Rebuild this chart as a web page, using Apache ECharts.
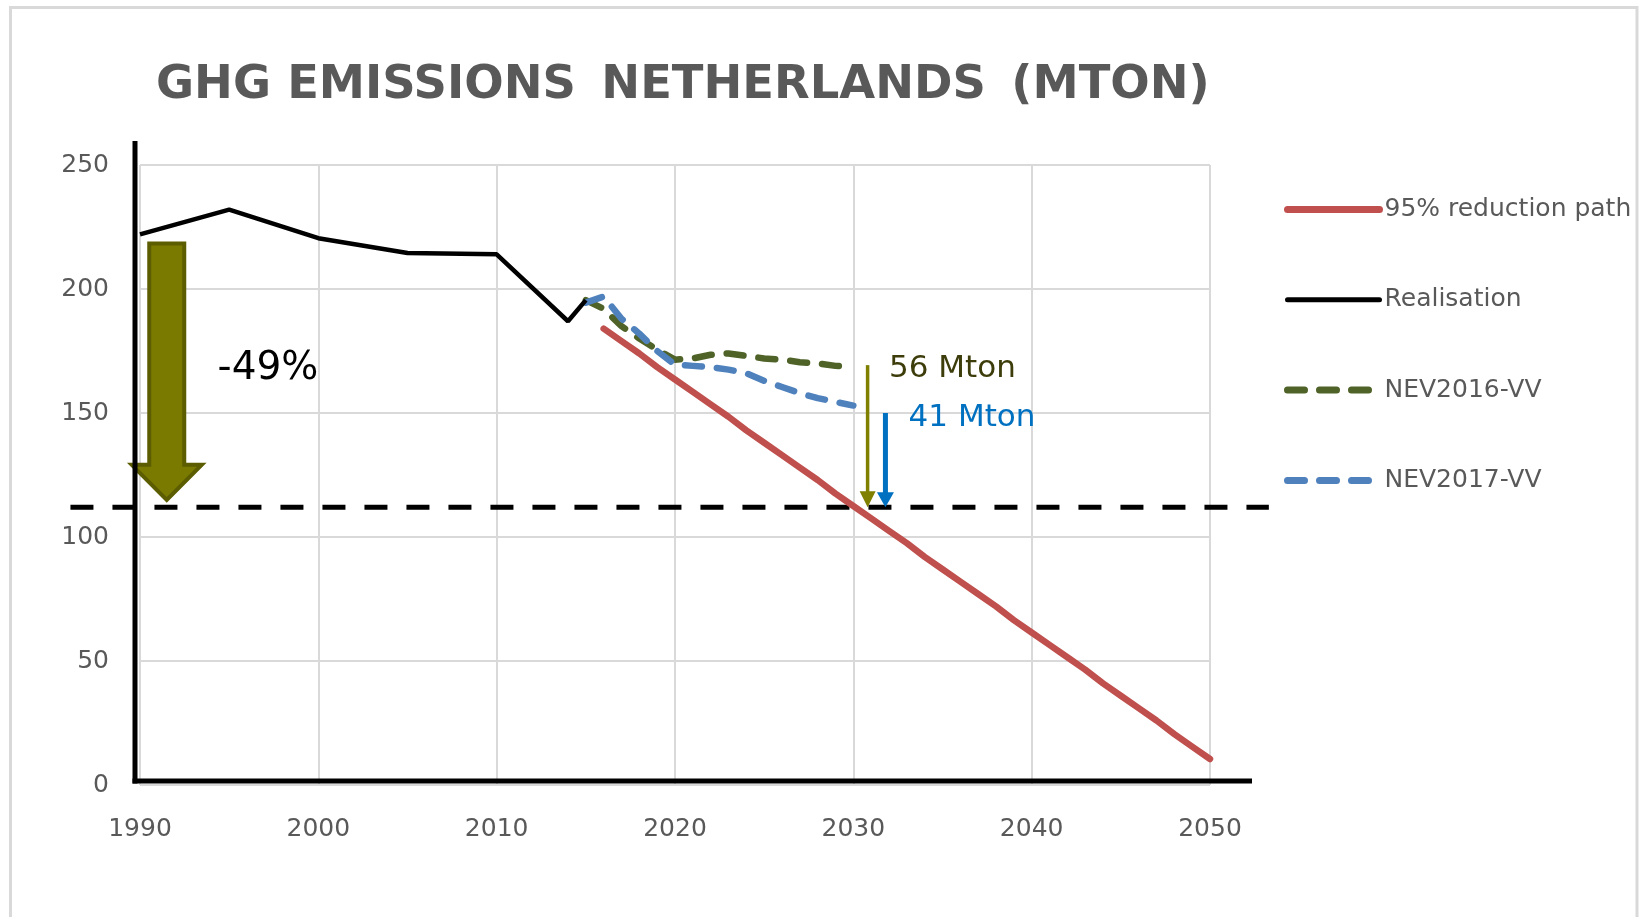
<!DOCTYPE html>
<html>
<head>
<meta charset="utf-8">
<script src="https://cdn.jsdelivr.net/npm/echarts@6/dist/echarts.min.js"></script>
<style>
html,body{margin:0;padding:0;background:#ffffff;}
#c{width:1639px;height:917px;}
</style>
</head>
<body>
<div id="c"></div>
<script>
// ---------- data ----------
const titleText = 'GHG EMISSIONS \u2009NETHERLANDS \u2009(MTON)';
const seriesNames = ['95% reduction path', 'Realisation', 'NEV2016-VV', 'NEV2017-VV'];
const xTickLabels = ['1990', '2000', '2010', '2020', '2030', '2040', '2050'];
const yTickLabels = ['0', '50', '100', '150', '200', '250'];

const realisationYears = [1990, 1995, 2000, 2005, 2010, 2014, 2015];
const realisationValues = [222, 232, 220.5, 214.5, 214, 187, 195.5];

const nev2016Years = [2015, 2016, 2017, 2018, 2019, 2020, 2021, 2022, 2023, 2024, 2025, 2026, 2027, 2028, 2029, 2030];
const nev2016Values = [195.5, 192, 185, 180, 175.5, 171.5, 172, 173.5, 174, 173, 172, 171.5, 170.5, 170, 169, 168.5];

const nev2017Years = [2015, 2016, 2017, 2018, 2019, 2020, 2021, 2022, 2023, 2024, 2025, 2026, 2027, 2028, 2029, 2030];
const nev2017Values = [194.5, 197, 188, 182, 175, 169.5, 169, 168.5, 167.5, 166, 163, 160.5, 158, 156, 154.5, 153];

const reductionYears = [2016, 2017, 2018, 2019, 2020, 2021, 2022, 2023, 2024, 2025, 2026, 2027, 2028, 2029, 2030,
  2031, 2032, 2033, 2034, 2035, 2036, 2037, 2038, 2039, 2040, 2041, 2042, 2043, 2044, 2045, 2046, 2047, 2048, 2049, 2050];
const reductionValues = [184, 179, 174, 168.5, 163.5, 158.5, 153.5, 148.5, 143, 138, 133, 128, 123, 117.5, 112.5,
  107.5, 102.5, 97.5, 92, 87, 82, 77, 72, 66.5, 61.5, 56.5, 51.5, 46.5, 41, 36, 31, 26, 20.5, 15.5, 10.5];

// annotation values (data coordinates)
const targetLevel = 112;
const bigArrow = { year: 1991.5, from: 218.3, to: 115 };
const gap2016 = { year: 2030.8, from: 169.3, to: targetLevel, label: '56 Mton', labelYear: 2032, labelValue: 167.8 };
const gap2017 = { year: 2031.8, from: 150, to: targetLevel, label: '41 Mton', labelYear: 2033.1, labelValue: 148.2 };
const reductionLabel = { text: '-49%', year: 1994.35, value: 167.6 };

// ---------- chart ----------
const FONT = 'DejaVu Sans';
const pairs = (xs, ys) => xs.map((x, i) => [x, ys[i]]);
const colors = { red: '#c0504d', black: '#000000', green: '#4f6228', blue: '#4f81bd' };

const chart = echarts.init(document.getElementById('c'));

const hiddenSymbol = { color: 'rgba(0,0,0,0)', borderWidth: 0, opacity: 0 };

const option = {
  animation: false,
  backgroundColor: '#ffffff',
  title: {
    text: titleText,
    left: 156,
    top: 61,
    padding: 0,
    textStyle: { fontFamily: FONT, fontWeight: 'bold', fontSize: 46.4, lineHeight: 50, color: '#595959' }
  },
  grid: { left: 140, right: 429, top: 165, bottom: 132, containLabel: false },
  xAxis: {
    type: 'value', min: 1990, max: 2050, interval: 10,
    axisLine: { show: false }, axisTick: { show: false },
    axisLabel: {
      margin: 32, fontFamily: FONT, fontSize: 25, color: '#595959',
      formatter: v => xTickLabels[Math.round((v - 1990) / 10)] || ''
    },
    splitLine: { show: true, lineStyle: { color: '#d9d9d9', width: 2 } }
  },
  yAxis: {
    type: 'value', min: 0, max: 250, interval: 50,
    axisLine: { show: false }, axisTick: { show: false },
    axisLabel: {
      margin: 31, fontFamily: FONT, fontSize: 25, color: '#595959',
      formatter: v => yTickLabels[Math.round(v / 50)] || ''
    },
    splitLine: { show: true, lineStyle: { color: '#d9d9d9', width: 2 } }
  },
  legend: {
    orient: 'vertical',
    left: 1284, top: 197,
    padding: 0,
    itemWidth: 92, itemHeight: 30, itemGap: 65.3,
    textStyle: { fontFamily: FONT, fontSize: 25, color: '#595959' },
    selectedMode: false,
    data: [
      { name: seriesNames[0], lineStyle: { width: 7, cap: 'round' }, itemStyle: hiddenSymbol },
      { name: seriesNames[1], lineStyle: { width: 5, cap: 'round' }, itemStyle: hiddenSymbol },
      { name: seriesNames[2], lineStyle: { width: 7, cap: 'round' }, itemStyle: hiddenSymbol },
      { name: seriesNames[3], lineStyle: { width: 7, cap: 'round' }, itemStyle: hiddenSymbol }
    ]
  },
  series: [
    {
      name: seriesNames[2], type: 'line', data: pairs(nev2016Years, nev2016Values),
      symbol: 'none', z: 3,
      lineStyle: { color: colors.green, width: 6.5, type: [17, 15], cap: 'round' },
      itemStyle: { color: colors.green }
    },
    {
      name: seriesNames[3], type: 'line', data: pairs(nev2017Years, nev2017Values),
      symbol: 'none', z: 4,
      lineStyle: { color: colors.blue, width: 6.5, type: [17, 15], cap: 'round' },
      itemStyle: { color: colors.blue }
    },
    {
      name: seriesNames[1], type: 'line', data: pairs(realisationYears, realisationValues),
      symbol: 'none', z: 5,
      lineStyle: { color: colors.black, width: 4.5 },
      itemStyle: { color: colors.black }
    },
    {
      name: seriesNames[0], type: 'line', data: pairs(reductionYears, reductionValues),
      symbol: 'none', z: 6,
      lineStyle: { color: colors.red, width: 6.5, cap: 'round', join: 'round' },
      itemStyle: { color: colors.red }
    }
  ]
};
chart.setOption(option);

// ---------- annotations positioned through the chart's own scales ----------
const P = (x, y) => chart.convertToPixel({ gridIndex: 0 }, [x, y]);
const origin = P(1990, 0);
const corner = P(2050, 250);

function thinArrow(a, color, w, headW, headL) {
  const top = P(a.year, a.from);
  const tip = P(a.year, a.to);
  return [
    { type: 'line', z: 20, shape: { x1: top[0], y1: top[1], x2: tip[0], y2: tip[1] - headL + 1 },
      style: { stroke: color, lineWidth: w } },
    { type: 'polygon', z: 20, shape: { points: [[tip[0] - headW / 2, tip[1] - headL], [tip[0] + headW / 2, tip[1] - headL], [tip[0], tip[1]]] },
      style: { fill: color } }
  ];
}

const bt = P(bigArrow.year, bigArrow.from);
const bb = P(bigArrow.year, bigArrow.to);
const cx = bt[0];
const shaftHW = 17.5, headHW = 35, headL = 35;
const hb = bb[1] - headL;

const tA = P(1986.1, targetLevel);
const tB = P(2053.3, targetLevel);
const lab49 = P(reductionLabel.year, reductionLabel.value);
const lab56 = P(gap2016.labelYear, gap2016.labelValue);
const lab41 = P(gap2017.labelYear, gap2017.labelValue);

const graphics = [
  // outer frame
  { type: 'rect', z: 0, silent: true, shape: { x: 10.5, y: 7.5, width: 1626.5, height: 960 },
    style: { fill: 'none', stroke: '#d9d9d9', lineWidth: 3 } },
  // target dashed line
  { type: 'line', z: 1, shape: { x1: tA[0], y1: tA[1], x2: tB[0], y2: tB[1] },
    style: { stroke: '#000000', lineWidth: 5, lineDash: [23, 19] } },
  // big block arrow
  { type: 'polygon', z: 8, shape: { points: [
      [cx - shaftHW, bt[1]], [cx + shaftHW, bt[1]], [cx + shaftHW, hb], [cx + headHW, hb],
      [cx, bb[1]], [cx - headHW, hb], [cx - shaftHW, hb]] },
    style: { fill: '#7a7a00', stroke: '#5c5c00', lineWidth: 4, lineJoin: 'miter' } },
  // thick black axis lines
  { type: 'line', z: 12, shape: { x1: origin[0] - 5, y1: 141, x2: origin[0] - 5, y2: origin[1] - 1.5 },
    style: { stroke: '#000000', lineWidth: 5 } },
  { type: 'line', z: 12, shape: { x1: origin[0] - 7.5, y1: origin[1] - 4, x2: corner[0] + 42, y2: origin[1] - 4 },
    style: { stroke: '#000000', lineWidth: 5 } },
  // labels
  { type: 'text', z: 20, x: lab49[0], y: lab49[1],
    style: { text: reductionLabel.text, fontFamily: FONT, fontSize: 39, fill: '#000000', textAlign: 'left', textVerticalAlign: 'middle' } },
  { type: 'text', z: 20, x: lab56[0], y: lab56[1],
    style: { text: gap2016.label, fontFamily: FONT, fontSize: 31, fill: '#3d3d0b', textAlign: 'left', textVerticalAlign: 'middle' } },
  { type: 'text', z: 20, x: lab41[0], y: lab41[1],
    style: { text: gap2017.label, fontFamily: FONT, fontSize: 31, fill: '#0070c0', textAlign: 'left', textVerticalAlign: 'middle' } }
].concat(thinArrow(gap2016, '#7f7f00', 3.5, 16, 16), thinArrow(gap2017, '#0070c0', 5, 17, 15));

chart.setOption({ graphic: graphics });
</script>
</body>
</html>
